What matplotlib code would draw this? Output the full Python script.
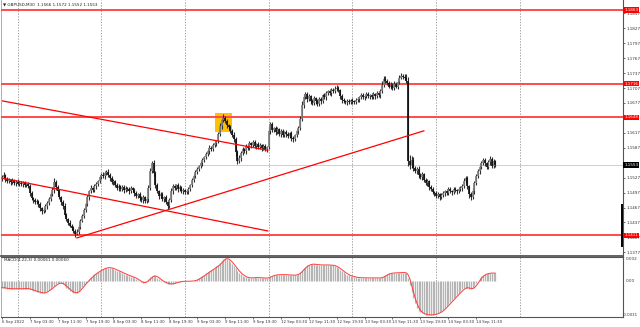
import matplotlib
matplotlib.use("Agg")
import matplotlib.pyplot as plt
import numpy as np
import pandas as pd
from matplotlib.lines import Line2D
from matplotlib.patches import Rectangle

# GBPUSD M30, bar 0 = 6 Sep 19:30 ... bar 283 = 14 Sep 17:00
first_open = 1.1524
closes = [
    1.1528, 1.1532, 1.1524, 1.1520, 1.1522, 1.1518, 1.1521, 1.1516, 1.1519, 1.1515, 1.1517, 1.1514, 1.1516, 1.1512, 1.1514, 1.1510,
    1.1496, 1.1486, 1.1482, 1.1478, 1.1480, 1.1474, 1.1466, 1.1460, 1.1462, 1.1470, 1.1476, 1.1484, 1.1494, 1.1502, 1.1518, 1.1508,
    1.1500, 1.1488, 1.1478, 1.1470, 1.1452, 1.1444, 1.1436, 1.1430, 1.1426, 1.1420, 1.1414, 1.1418, 1.1428, 1.1440, 1.1450, 1.1462,
    1.1474, 1.1488, 1.1500, 1.1506, 1.1502, 1.1510, 1.1514, 1.1520, 1.1528, 1.1532, 1.1530, 1.1536, 1.1538, 1.1532, 1.1526, 1.1518,
    1.1520, 1.1512, 1.1506, 1.1510, 1.1504, 1.1508, 1.1502, 1.1506, 1.1504, 1.1500, 1.1506, 1.1502, 1.1496, 1.1490, 1.1494, 1.1486,
    1.1482, 1.1488, 1.1480, 1.1484, 1.1506, 1.1540, 1.1556, 1.1536, 1.1512, 1.1500, 1.1490, 1.1494, 1.1484, 1.1488, 1.1478, 1.1470,
    1.1482, 1.1500, 1.1510, 1.1506, 1.1512, 1.1504, 1.1508, 1.1500, 1.1502, 1.1498, 1.1500, 1.1504, 1.1512, 1.1522, 1.1530, 1.1538,
    1.1544, 1.1550, 1.1556, 1.1562, 1.1568, 1.1574, 1.1580, 1.1586, 1.1584, 1.1592, 1.1596, 1.1600, 1.1614, 1.1630, 1.1642, 1.1646,
    1.1640, 1.1632, 1.1628, 1.1620, 1.1612, 1.1604, 1.1578, 1.1560, 1.1566, 1.1576, 1.1584, 1.1580, 1.1590, 1.1586, 1.1596, 1.1592,
    1.1598, 1.1590, 1.1594, 1.1588, 1.1592, 1.1586, 1.1590, 1.1584, 1.1588, 1.1620, 1.1634, 1.1622, 1.1626, 1.1618, 1.1624, 1.1614,
    1.1620, 1.1612, 1.1618, 1.1614, 1.1610, 1.1616, 1.1606, 1.1604, 1.1612, 1.1620, 1.1626, 1.1644, 1.1672, 1.1688, 1.1694, 1.1684,
    1.1690, 1.1680, 1.1676, 1.1686, 1.1680, 1.1674, 1.1684, 1.1680, 1.1692, 1.1688, 1.1696, 1.1700, 1.1696, 1.1704, 1.1700, 1.1706,
    1.1708, 1.1702, 1.1690, 1.1682, 1.1680, 1.1678, 1.1680, 1.1678, 1.1682, 1.1680, 1.1678, 1.1682, 1.1684, 1.1688, 1.1692, 1.1688,
    1.1690, 1.1694, 1.1690, 1.1692, 1.1688, 1.1694, 1.1690, 1.1696, 1.1692, 1.1700, 1.1714, 1.1726, 1.1722, 1.1718, 1.1710, 1.1714,
    1.1708, 1.1716, 1.1710, 1.1720, 1.1728, 1.1732, 1.1730, 1.1728, 1.1722, 1.1560, 1.1552, 1.1562, 1.1546, 1.1540, 1.1544, 1.1532,
    1.1528, 1.1534, 1.1522, 1.1516, 1.1520, 1.1508, 1.1504, 1.1498, 1.1496, 1.1490, 1.1494, 1.1488, 1.1492, 1.1496, 1.1500, 1.1496,
    1.1504, 1.1500, 1.1498, 1.1504, 1.1502, 1.1500, 1.1504, 1.1506, 1.1510, 1.1520, 1.1526, 1.1510, 1.1494, 1.1488, 1.1500, 1.1516,
    1.1530, 1.1540, 1.1548, 1.1556, 1.1562, 1.1556, 1.1548, 1.1558, 1.1564, 1.1550, 1.1560, 1.1553,
]
# wick lengths in pips above / below the candle body
upper_wick = [
    4, 6, 3, 5, 4, 3, 5, 4, 3, 5, 4, 3, 4, 5, 3, 4,
    5, 4, 3, 4, 5, 3, 4, 3, 5, 4, 4, 5, 4, 6, 8, 5,
    4, 5, 3, 4, 6, 4, 3, 5, 4, 3, 4, 5, 4, 3, 5, 4,
    5, 4, 3, 6, 4, 5, 4, 3, 5, 4, 6, 4, 5, 7, 4, 5,
    4, 3, 5, 4, 3, 5, 4, 4, 3, 5, 4, 3, 5, 4, 3, 4,
    5, 4, 3, 5, 6, 6, 4, 6, 5, 4, 3, 5, 4, 3, 5, 4,
    5, 6, 4, 5, 3, 4, 5, 3, 4, 3, 5, 4, 3, 5, 4, 5,
    4, 3, 5, 4, 3, 5, 4, 6, 4, 5, 4, 3, 5, 6, 4, 8,
    5, 4, 3, 5, 4, 6, 5, 4, 6, 4, 5, 3, 4, 5, 4, 3,
    4, 5, 3, 4, 5, 3, 4, 5, 3, 8, 5, 4, 3, 5, 4, 3,
    4, 5, 3, 4, 5, 3, 4, 5, 3, 4, 5, 6, 8, 6, 5, 4,
    5, 3, 4, 5, 3, 4, 5, 4, 3, 5, 4, 3, 5, 4, 3, 5,
    6, 4, 3, 5, 4, 3, 4, 5, 3, 4, 3, 5, 4, 3, 5, 4,
    3, 5, 4, 3, 4, 5, 3, 4, 5, 6, 8, 6, 5, 4, 3, 5,
    4, 5, 3, 4, 6, 5, 4, 6, 7, 8, 12, 8, 6, 5, 4, 6,
    5, 4, 3, 5, 4, 3, 5, 4, 3, 5, 4, 3, 5, 4, 3, 4,
    5, 4, 3, 4, 5, 3, 4, 5, 4, 6, 5, 4, 3, 5, 6, 5,
    4, 5, 6, 4, 5, 4, 3, 5, 6, 4, 5, 3,
]
lower_wick = [
    3, 4, 5, 3, 4, 5, 3, 4, 5, 3, 4, 3, 5, 4, 3, 4,
    6, 4, 5, 3, 4, 5, 6, 5, 4, 3, 5, 4, 3, 4, 5, 6,
    5, 4, 6, 5, 4, 5, 4, 3, 5, 4, 6, 3, 4, 5, 3, 4,
    3, 4, 5, 3, 4, 3, 5, 4, 3, 4, 3, 5, 4, 3, 5, 4,
    5, 3, 4, 5, 3, 4, 5, 3, 4, 5, 3, 4, 5, 4, 3, 5,
    4, 5, 3, 4, 5, 3, 4, 5, 6, 4, 5, 3, 4, 5, 4, 6,
    4, 3, 5, 4, 3, 5, 4, 3, 5, 4, 3, 5, 4, 3, 4, 3,
    4, 3, 4, 5, 3, 4, 3, 5, 4, 3, 4, 5, 3, 4, 5, 4,
    3, 5, 4, 3, 4, 5, 8, 6, 4, 5, 3, 4, 5, 3, 4, 5,
    3, 4, 5, 3, 4, 5, 3, 4, 5, 4, 5, 3, 4, 5, 3, 4,
    5, 3, 4, 5, 3, 4, 6, 5, 4, 3, 5, 4, 3, 5, 4, 6,
    4, 5, 3, 4, 5, 3, 4, 5, 3, 4, 5, 3, 4, 5, 3, 4,
    5, 4, 6, 5, 4, 3, 5, 4, 3, 5, 4, 3, 4, 5, 3, 4,
    5, 3, 4, 5, 3, 4, 5, 3, 4, 5, 3, 4, 5, 4, 3, 5,
    4, 5, 3, 4, 5, 3, 4, 5, 4, 10, 8, 6, 5, 4, 6, 5,
    4, 5, 3, 4, 6, 5, 4, 3, 5, 4, 3, 5, 4, 3, 5, 4,
    3, 4, 5, 3, 4, 5, 3, 4, 5, 4, 3, 6, 8, 6, 4, 5,
    4, 3, 5, 4, 3, 5, 4, 3, 5, 4, 3, 4,
]
# MACD main line, in units of 1e-4
macd_main = [
    -6, -6.3, -6.6, -6.8, -7, -7, -7, -7, -7, -7, -7, -7, -6.9, -6.8, -6.8, -7,
    -7.5, -8, -8.5, -9, -9.5, -10, -10.4, -10.7,
    -10.6, -10, -9, -8, -6.8, -5.6, -4.3, -3.2, -2.4, -2,
    -2.3, -3.2, -4.5, -6, -7.4, -8.6, -9.6, -10.3, -10.7,
    -10.2, -8.8, -7, -5.2, -3.4, -1.7, 0,
    1.5, 3, 4.3, 5.5, 6.6, 7.6, 8.5, 9.3, 10, 10.6, 11, 11,
    10.8, 10.4, 9.8, 9.1, 8.4, 7.7, 7, 6.3, 5.6, 5, 4.4, 3.8, 3.2, 2.7, 2.3,
    1.4, 0.3, -0.8, -1.6, -2,
    -1.6, -0.5, 1, 2.6, 3.8, 4.3,
    3.6, 2.5, 1.3, 0.2, -0.8, -1.6, -2.2, -2.7, -3, -3,
    -2.6, -2.1, -1.6, -1.2, -0.9, -0.7, -0.6, -0.6, -0.6, -0.6, -0.5, -0.4, -0.2,
    0.3, 1, 2, 3, 4, 5, 6, 7, 8, 9, 10, 11, 12, 13.3, 14.8, 16.5, 18, 19,
    18.6, 17.5, 16, 14.2, 12.3, 10.3, 8.4, 6.8, 5.4, 4.2, 3.3, 2.7, 2.3,
    2.2, 2.3, 2.5, 2.6, 2.5, 2.4, 2.3, 2.2, 2.1, 2, 2.1,
    2.8, 3.6, 4.2, 4.6, 4.8, 5, 5, 5, 5, 5, 4.9, 4.8, 4.7, 4.6, 4.5, 4.6, 5, 5.8,
    7, 8.8, 10.5, 11.8, 12.8, 13.5, 14,
    14, 13.8, 13.6, 13.4, 13.3, 13.2, 13.2, 13.3, 13.3, 13.2, 13.1, 13, 12.8,
    12.2, 11.4, 10.4, 9.2, 8, 6.9, 5.9, 5, 4.3, 3.7,
    3.3, 3, 2.7, 2.5, 2.4, 2.3, 2.3, 2.3, 2.3, 2.3, 2.3, 2.2, 2.2, 2.2, 2.2, 2.2, 2.3, 2.8, 3.8,
    4.8, 5.5, 6, 6.3, 6.5, 6.5, 6.5, 6.6, 6.7, 6.8, 6.8, 6.6,
    6, 2, -4, -10, -15, -19.5, -23, -25.5, -27, -28, -28.6, -29, -29.2, -29.3, -29.2, -29, -28.8,
    -28.4, -27.8, -27, -26, -24.7, -23.2, -21.6, -20, -18.4, -16.8, -15.2, -13.6, -12, -10.5, -9, -7.6, -6.3,
    -6, -6.2, -6.8, -7, -6.6,
    -4.8, -2.5, 0, 2, 3.6, 4.8,
    5.5, 5.9, 6.2, 6.4, 6.5, 6.2, 6.1,
]
assert len(closes) == len(upper_wick) == len(lower_wick) == len(macd_main)

levels = [1.1863, 1.1716, 1.1648, 1.1411]
last_price = 1.1553
header = "GBPUSD,M30  1.1566 1.1572 1.1552 1.1553"
macd_title = "MACD(4,22,3) 0.00061 0.00060"
# 1.1647 and 1.1557 sit under the level boxes, so they are left out
price_ticks = [1.1857, 1.1827, 1.1797, 1.1767, 1.1737, 1.1707, 1.1677, 1.1617,
               1.1587, 1.1527, 1.1497, 1.1467, 1.1437, 1.1407, 1.1377]
time_labels = ["6 Sep 2022", "7 Sep 03:30", "7 Sep 11:30", "7 Sep 19:30", "8 Sep 03:30",
               "8 Sep 11:30", "8 Sep 19:30", "9 Sep 03:30", "9 Sep 11:30", "9 Sep 19:30",
               "12 Sep 03:30", "12 Sep 11:30", "12 Sep 19:30", "13 Sep 03:30", "13 Sep 11:30",
               "13 Sep 19:30", "14 Sep 03:30", "14 Sep 11:30"]
label_bars = [0, 16, 32, 48, 64, 80, 96, 112, 128, 144, 160, 176, 192, 208, 224, 240, 256, 272]
day_bars = [9, 57, 105, 153, 201, 249, 297]
# trend lines: (bar, price) -> (bar, price)
trend_lines = [
    (0.4, 1.1681, 152.5, 1.1582),
    (0.4, 1.1526, 152.5, 1.1420),
    (43, 1.1406, 242, 1.1621),
]
box_bars = (122, 132)
box_prices = (1.1619, 1.1657)

plt.rcParams['font.family'] = 'DejaVu Sans'
FS = 3.0
W, H = 640, 327
fig = plt.figure(figsize=(6.4, 3.27), dpi=100)
fig.patch.set_facecolor('white')
ax = fig.add_axes([1 / W, 1 - 256 / H, 622 / W, 256 / H])
mx = fig.add_axes([1 / W, 1 - 317 / H, 622 / W, 60 / H], sharex=ax)

n = len(closes)
idx = np.arange(n)
c = np.array(closes)
o = np.r_[first_open, c[:-1]]
hi = np.maximum(o, c) + np.array(upper_wick) * 1e-4
lo = np.minimum(o, c) - np.array(lower_wick) * 1e-4

# price panel
for b in day_bars:
    ax.axvline(b, color='#808080', lw=0.5, ls=(0, (2, 2)), zorder=0)
    mx.axvline(b, color='#808080', lw=0.5, ls=(0, (2, 2)), zorder=0)
ax.add_patch(Rectangle((box_bars[0], box_prices[0]), box_bars[1] - box_bars[0],
                       box_prices[1] - box_prices[0], fc='#ffc000', ec='none', zorder=2))
ax.axhline(last_price, color='#c8c8c8', lw=0.6, zorder=1)
for lv in levels:
    ax.axhline(lv, color='#ff4a4a', lw=1.4, zorder=3)

ax.vlines(idx, lo, hi, color='#303030', lw=0.8, zorder=4)
up = c >= o
ax.vlines(idx[up], o[up], c[up], color='#808080', lw=1.25, zorder=5)
ax.vlines(idx[~up], c[~up], o[~up], color='#111111', lw=1.25, zorder=5)

for x0, p0, x1, p1 in trend_lines:
    ax.plot([x0, x1], [p0, p1], color='#ff0000', lw=0.9, zorder=6)

ax.set_xlim(-0.5, 356.2)
ax.set_ylim(1.13697, 1.18837)
ax.yaxis.tick_right()
ax.set_yticks(price_ticks)
ax.set_yticklabels([f"{t:.4f}" for t in price_ticks])
ax.tick_params(axis='y', length=1.5, width=0.5, pad=1, labelsize=FS, colors='#333333')
ax.tick_params(axis='x', bottom=False, labelbottom=False)
ax.spines['top'].set_visible(False)
ax.spines['left'].set_color('#a0a0a0')
ax.spines['left'].set_linewidth(0.6)
ax.spines['right'].set_color('#555555')
ax.spines['right'].set_linewidth(0.8)
ax.spines['bottom'].set_color('#555555')
ax.spines['bottom'].set_linewidth(1.3)

ytr = ax.get_yaxis_transform()
for lv in levels:
    ax.text(1.002, lv, f"{lv:.4f}", transform=ytr, fontsize=FS, color='white', va='center',
            ha='left', bbox=dict(boxstyle='square,pad=0.2', fc='#ff0000', ec='none'),
            zorder=10, clip_on=False)
ax.text(1.002, last_price, f"{last_price:.4f}", transform=ytr, fontsize=FS, color='white',
        va='center', ha='left', bbox=dict(boxstyle='square,pad=0.2', fc='black', ec='none'),
        zorder=10, clip_on=False)
ax.text(0.003, 0.981, "\u25bc " + header, transform=ax.transAxes, fontsize=FS,
        color='#222222', va='center', ha='left', zorder=10)
fig.add_artist(Line2D([622.3 / W] * 2, [1 - 246 / H, 1 - 205 / H], color='black', lw=1.4))

# MACD panel
m = np.array(macd_main) * 1e-4
signal = pd.Series(m).rolling(3, min_periods=1).mean()
mx.vlines(idx, 0, m, color='#b4b4b4', lw=0.9, zorder=2)
mx.plot(idx, signal, color='#ff3b3b', lw=0.7, zorder=3)
mx.set_ylim(-0.0031, 0.0020)
mx.set_yticks([])
mtr = mx.get_yaxis_transform()
right_edge = (638 - 1) / 622
mx.text(1.005, 0.0020, "0.002", transform=mtr, fontsize=FS, va='top', ha='left', color='#333333', clip_on=False)
mx.text(1.005, 0.0, "0.00", transform=mtr, fontsize=FS, va='center', ha='left', color='#333333', clip_on=False)
mx.text(right_edge, -0.0031, "-0.0031", transform=mtr, fontsize=2.8, va='bottom', ha='right', color='#333333', clip_on=False)
mx.text(0.005, 0.95, macd_title, transform=mx.transAxes, fontsize=FS, va='center', ha='left', color='#222222')
mx.set_xticks(label_bars)
mx.set_xticklabels(time_labels, ha='left')
mx.tick_params(axis='x', length=1.5, width=0.5, pad=1, labelsize=2.8, colors='#333333')
mx.spines['top'].set_color('#555555')
mx.spines['top'].set_linewidth(0.8)
mx.spines['left'].set_color('#a0a0a0')
mx.spines['left'].set_linewidth(0.6)
mx.spines['right'].set_color('#555555')
mx.spines['right'].set_linewidth(0.8)
mx.spines['bottom'].set_color('#555555')
mx.spines['bottom'].set_linewidth(0.8)

fig.savefig("out.png", dpi=100)
